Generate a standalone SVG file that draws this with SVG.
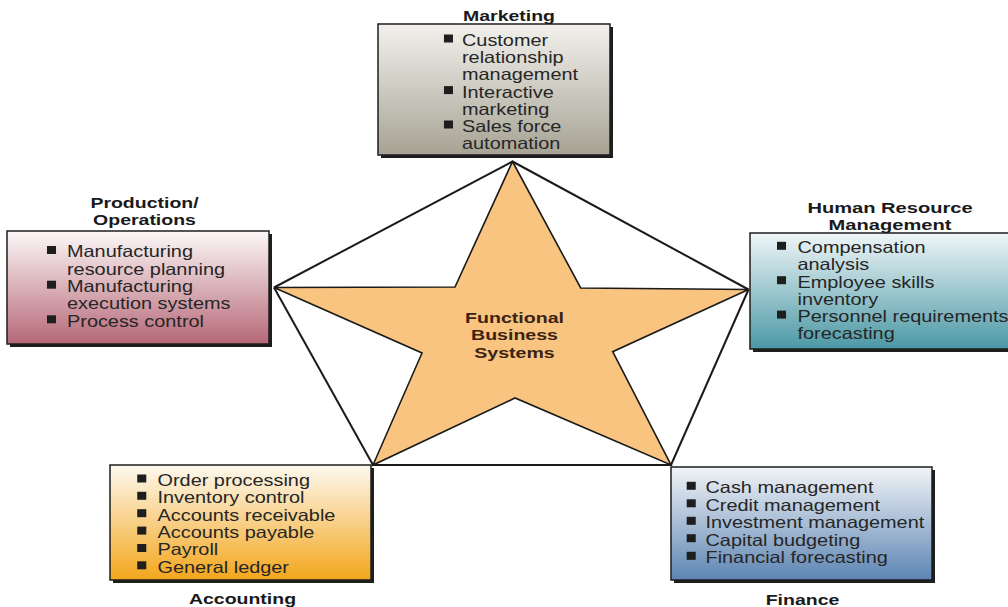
<svg xmlns="http://www.w3.org/2000/svg" width="1008" height="607" viewBox="0 0 1008 607">
<style>
.t{font-family:"Liberation Sans",Arial,sans-serif;font-size:16.3px;fill:#262626}
.h{font-family:"Liberation Sans",Arial,sans-serif;font-size:15px;font-weight:bold;fill:#1a1a1a;text-anchor:middle}
.s{font-family:"Liberation Sans",Arial,sans-serif;font-size:14.5px;font-weight:bold;fill:#3b2314;text-anchor:middle}
.b{fill:#1e1e1e}
.box{stroke:#1e1e1e;stroke-width:1.5}
.sh{fill:#1e1e1e}
.ln{stroke:#1a1a1a;stroke-width:2;fill:none}
</style>
<defs>
<linearGradient id="gM" x1="0" y1="0" x2="0" y2="1"><stop offset="0" stop-color="#f3f1ed"/><stop offset="1" stop-color="#a6a394"/></linearGradient>
<linearGradient id="gP" x1="0" y1="0" x2="0" y2="1"><stop offset="0" stop-color="#fcf8f8"/><stop offset="1" stop-color="#b66877"/></linearGradient>
<linearGradient id="gH" x1="0" y1="0" x2="0" y2="1"><stop offset="0" stop-color="#f0f6f8"/><stop offset="1" stop-color="#4b98a5"/></linearGradient>
<linearGradient id="gA" x1="0" y1="0" x2="0" y2="1"><stop offset="0" stop-color="#fdf9f0"/><stop offset="1" stop-color="#f3a61c"/></linearGradient>
<linearGradient id="gF" x1="0" y1="0" x2="0" y2="1"><stop offset="0" stop-color="#f2f4f7"/><stop offset="1" stop-color="#5d85b3"/></linearGradient>
</defs>

<g id="connectors">
<line class="ln" x1="512.5" y1="161.5" x2="274" y2="287.5"/>
<line class="ln" x1="512.5" y1="161.5" x2="748.5" y2="289.5"/>
<line class="ln" x1="274" y1="287.5" x2="373" y2="465"/>
<line class="ln" x1="748.5" y1="289.5" x2="671" y2="465"/>
<line class="ln" x1="373" y1="465" x2="671" y2="465"/>
</g>

<g id="star">
<polygon points="512.5,161.5 580.7,288 748.5,289.5 612.7,351.7 671,465 515,398 373,465 422,353 274,287.5 455,287" fill="#f9c47f" stroke="#1a1a1a" stroke-width="1.6" stroke-linejoin="miter"/>
<g transform="translate(514.5 0) scale(1.35 1)">
<text class="s" x="0" y="322.7">Functional</text>
<text class="s" x="0" y="340">Business</text>
<text class="s" x="0" y="358">Systems</text>
</g>
</g>

<g id="marketing">
<rect class="sh" x="381" y="27" width="232" height="131"/>
<rect class="box" x="378" y="24" width="232" height="131" fill="url(#gM)"/>
<g transform="translate(509 0) scale(1.3 1)"><text class="h" x="0" y="20.7">Marketing</text></g>
<g transform="translate(462 0) scale(1.22 1)">
<rect class="b" x="-14.8" y="34.5" width="7.4" height="8"/>
<text class="t" x="0" y="46">Customer</text>
<text class="t" x="0" y="63.2">relationship</text>
<text class="t" x="0" y="80.4">management</text>
<rect class="b" x="-14.8" y="86.1" width="7.4" height="8"/>
<text class="t" x="0" y="97.6">Interactive</text>
<text class="t" x="0" y="114.8">marketing</text>
<rect class="b" x="-14.8" y="120.5" width="7.4" height="8"/>
<text class="t" x="0" y="132">Sales force</text>
<text class="t" x="0" y="149.2">automation</text>
</g>
</g>

<g id="production">
<rect class="sh" x="10" y="234" width="262" height="113"/>
<rect class="box" x="7" y="231" width="262" height="113" fill="url(#gP)"/>
<g transform="translate(144.5 0) scale(1.3 1)">
<text class="h" x="0" y="208.5">Production/</text>
<text class="h" x="0" y="225">Operations</text>
</g>
<g transform="translate(67 0) scale(1.22 1)">
<rect class="b" x="-16.4" y="246" width="7.4" height="8"/>
<text class="t" x="0" y="257.5">Manufacturing</text>
<text class="t" x="0" y="274.8">resource planning</text>
<rect class="b" x="-16.4" y="280.7" width="7.4" height="8"/>
<text class="t" x="0" y="292.2">Manufacturing</text>
<text class="t" x="0" y="309.5">execution systems</text>
<rect class="b" x="-16.4" y="315.3" width="7.4" height="8"/>
<text class="t" x="0" y="326.8">Process control</text>
</g>
</g>

<g id="hr">
<rect class="sh" x="753" y="236" width="262" height="116"/>
<rect class="box" x="750" y="233" width="262" height="116" fill="url(#gH)"/>
<g transform="translate(890 0) scale(1.34 1)">
<text class="h" x="0" y="213.5">Human Resource</text>
<text class="h" x="0" y="230">Management</text>
</g>
<g transform="translate(797.5 0) scale(1.22 1)">
<rect class="b" x="-16.8" y="241.8" width="7.4" height="8"/>
<text class="t" x="0" y="253.3">Compensation</text>
<text class="t" x="0" y="270.5">analysis</text>
<rect class="b" x="-16.8" y="276.2" width="7.4" height="8"/>
<text class="t" x="0" y="287.7">Employee skills</text>
<text class="t" x="0" y="304.9">inventory</text>
<rect class="b" x="-16.8" y="310.6" width="7.4" height="8"/>
<text class="t" x="0" y="322.1">Personnel requirements</text>
<text class="t" x="0" y="339.3">forecasting</text>
</g>
</g>

<g id="accounting">
<rect class="sh" x="113" y="468" width="261" height="115"/>
<rect class="box" x="110" y="465" width="261" height="115" fill="url(#gA)"/>
<g transform="translate(242.5 0) scale(1.3 1)"><text class="h" x="0" y="604.5">Accounting</text></g>
<g transform="translate(157.5 0) scale(1.22 1)">
<rect class="b" x="-16.6" y="474.5" width="7.4" height="8"/>
<text class="t" x="0" y="486">Order processing</text>
<rect class="b" x="-16.6" y="491.8" width="7.4" height="8"/>
<text class="t" x="0" y="503.3">Inventory control</text>
<rect class="b" x="-16.6" y="509.2" width="7.4" height="8"/>
<text class="t" x="0" y="520.7">Accounts receivable</text>
<rect class="b" x="-16.6" y="526.6" width="7.4" height="8"/>
<text class="t" x="0" y="538.1">Accounts payable</text>
<rect class="b" x="-16.6" y="544" width="7.4" height="8"/>
<text class="t" x="0" y="555.5">Payroll</text>
<rect class="b" x="-16.6" y="561.3" width="7.4" height="8"/>
<text class="t" x="0" y="572.8">General ledger</text>
</g>
</g>

<g id="finance">
<rect class="sh" x="674" y="470" width="261" height="113"/>
<rect class="box" x="671" y="467" width="261" height="113" fill="url(#gF)"/>
<g transform="translate(802.5 0) scale(1.3 1)"><text class="h" x="0" y="605">Finance</text></g>
<g transform="translate(705.5 0) scale(1.22 1)">
<rect class="b" x="-15.4" y="481.8" width="7.4" height="8"/>
<text class="t" x="0" y="493.3">Cash management</text>
<rect class="b" x="-15.4" y="499.3" width="7.4" height="8"/>
<text class="t" x="0" y="510.8">Credit management</text>
<rect class="b" x="-15.4" y="516.8" width="7.4" height="8"/>
<text class="t" x="0" y="528.3">Investment management</text>
<rect class="b" x="-15.4" y="534.2" width="7.4" height="8"/>
<text class="t" x="0" y="545.7">Capital budgeting</text>
<rect class="b" x="-15.4" y="551.8" width="7.4" height="8"/>
<text class="t" x="0" y="563.3">Financial forecasting</text>
</g>
</g>
</svg>
